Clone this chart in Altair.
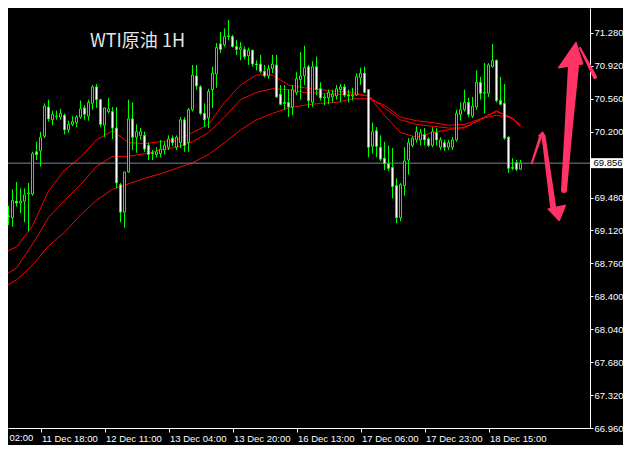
import json
import altair as alt
import pandas as pd

# ---------------- data (WTI 1H candles) ----------------
opens = [68.76, 68.96, 69.28, 69.26, 69.44, 69.42, 69.44, 69.52, 69.52, 69.98,
         69.99, 70.15, 70.47, 70.33, 70.36, 70.36, 70.38, 70.22, 70.28, 70.30,
         70.36, 70.46, 70.37, 70.51, 70.69, 70.55, 70.27, 70.42, 70.42, 70.24,
         69.62, 69.32, 69.76, 70.34, 70.14, 70.16, 70.16, 70.05, 69.97, 69.95,
         69.96, 70.00, 70.03, 70.13, 70.03, 70.08, 70.33, 70.08, 70.44, 70.81,
         70.69, 70.40, 70.35, 70.66, 70.83, 71.16, 71.15, 71.24, 71.24, 71.13,
         71.10, 71.10, 71.03, 71.09, 70.94, 70.94, 70.86, 70.81, 70.89, 70.93,
         70.61, 70.52, 70.52, 70.47, 70.63, 70.77, 70.81, 70.91, 70.52, 70.91,
         70.67, 70.57, 70.57, 70.58, 70.59, 70.66, 70.69, 70.60, 70.59, 70.60,
         70.79, 70.84, 70.66, 70.04, 70.21, 70.03, 69.91, 69.85, 69.81, 69.61,
         69.26, 69.61, 69.89, 70.05, 70.11, 70.11, 70.17, 70.12, 70.05, 70.19,
         70.03, 70.08, 70.03, 70.03, 70.11, 70.39, 70.44, 70.52, 70.37, 70.47,
         70.74, 70.62, 70.62, 70.91, 70.98, 70.54, 70.51, 70.14, 69.81, 69.86,
         69.79]
highs = [68.99, 69.39, 69.39, 69.57, 69.65, 69.58, 69.58, 69.64, 69.98, 70.09,
         70.20, 70.51, 70.55, 70.43, 70.43, 70.45, 70.40, 70.32, 70.37, 70.38,
         70.54, 70.49, 70.55, 70.71, 70.72, 70.56, 70.46, 70.57, 70.47, 70.47,
         69.64, 69.76, 70.55, 70.52, 70.28, 70.24, 70.20, 70.08, 70.00, 70.03,
         70.11, 70.09, 70.16, 70.16, 70.16, 70.36, 70.36, 70.46, 70.93, 70.93,
         70.71, 70.51, 70.67, 70.91, 71.17, 71.29, 71.33, 71.42, 71.26, 71.20,
         71.18, 71.13, 71.12, 71.10, 70.98, 71.04, 70.93, 70.93, 71.04, 71.04,
         70.71, 70.71, 70.66, 70.71, 70.85, 71.07, 71.14, 70.93, 70.97, 71.02,
         70.74, 70.61, 70.66, 70.66, 70.71, 70.72, 70.72, 70.66, 70.68, 70.84,
         70.90, 70.91, 70.66, 70.30, 70.25, 70.16, 70.09, 70.05, 70.02, 69.69,
         69.64, 70.03, 70.13, 70.15, 70.26, 70.23, 70.24, 70.14, 70.25, 70.24,
         70.14, 70.11, 70.11, 70.14, 70.44, 70.52, 70.66, 70.57, 70.58, 70.87,
         70.80, 70.95, 70.95, 71.16, 70.99, 70.80, 70.72, 70.15, 69.91, 69.89,
         69.89]
lows = [68.71, 68.94, 69.18, 69.16, 69.38, 69.31, 69.21, 69.11, 69.50, 69.89,
        69.82, 70.13, 70.31, 70.27, 70.33, 70.33, 70.17, 70.19, 70.26, 70.25,
        70.34, 70.33, 70.32, 70.44, 70.46, 70.25, 70.14, 70.40, 70.12, 69.58,
        69.21, 69.15, 69.75, 70.00, 69.97, 70.11, 69.98, 69.89, 69.89, 69.92,
        69.92, 69.95, 70.00, 70.04, 70.00, 70.02, 69.98, 69.98, 70.42, 70.66,
        70.38, 70.25, 70.24, 70.46, 70.68, 71.06, 71.13, 71.20, 71.12, 71.04,
        70.98, 70.99, 70.93, 70.91, 70.87, 70.84, 70.79, 70.78, 70.84, 70.57,
        70.49, 70.44, 70.36, 70.38, 70.60, 70.55, 70.71, 70.46, 70.47, 70.60,
        70.54, 70.49, 70.50, 70.52, 70.55, 70.52, 70.58, 70.52, 70.54, 70.59,
        70.71, 70.62, 69.92, 69.96, 69.92, 69.88, 69.78, 69.77, 69.47, 69.20,
        69.22, 69.50, 69.73, 70.03, 70.08, 70.05, 70.05, 70.03, 70.03, 70.05,
        70.00, 69.99, 70.00, 70.00, 70.09, 70.32, 70.42, 70.36, 70.35, 70.44,
        70.55, 70.40, 70.58, 70.90, 70.52, 70.49, 70.11, 69.75, 69.78, 69.77,
        69.78]
closes = [68.96, 69.27, 69.27, 69.45, 69.42, 69.44, 69.51, 69.53, 69.96, 69.95,
          70.14, 70.48, 70.34, 70.39, 70.37, 70.40, 70.22, 70.28, 70.31, 70.36,
          70.45, 70.39, 70.52, 70.69, 70.55, 70.28, 70.46, 70.45, 70.24, 69.64,
          69.32, 69.76, 70.34, 70.14, 70.20, 70.20, 70.01, 69.95, 69.96, 69.98,
          70.01, 70.05, 70.12, 70.08, 70.14, 70.33, 70.05, 70.44, 70.82, 70.70,
          70.40, 70.33, 70.64, 70.84, 71.12, 71.10, 71.24, 71.25, 71.13, 71.10,
          71.12, 71.02, 71.09, 70.94, 70.93, 70.86, 70.81, 70.89, 70.94, 70.58,
          70.50, 70.51, 70.47, 70.66, 70.78, 70.81, 70.90, 70.54, 70.91, 70.66,
          70.57, 70.58, 70.63, 70.61, 70.67, 70.69, 70.60, 70.59, 70.60, 70.80,
          70.84, 70.63, 70.03, 70.20, 70.04, 69.90, 69.85, 69.80, 69.60, 69.26,
          69.62, 69.88, 70.08, 70.13, 70.20, 70.19, 70.11, 70.05, 70.20, 70.11,
          70.11, 70.03, 70.08, 70.11, 70.40, 70.44, 70.52, 70.39, 70.48, 70.74,
          70.62, 70.63, 70.93, 70.98, 70.54, 70.50, 70.13, 69.80, 69.80, 69.79,
          69.856]

# moving averages (red lines), sampled every 4 bars
ma_bars = [0, 4, 8, 12, 16, 20, 24, 28, 32, 36, 40, 44, 48, 52, 56, 60, 64,
           68, 72, 76, 80, 84, 88, 92, 96, 100, 104, 108, 112, 116, 120, 124, 128, 130]
ma_fast = [68.86, 68.94, 69.17, 69.55, 69.78, 69.92, 70.11, 70.21, 70.08, 70.07,
           70.09, 70.11, 70.19, 70.28, 70.52, 70.71, 70.82, 70.82, 70.71, 70.68,
           70.66, 70.64, 70.63, 70.59, 70.38, 70.19, 70.14, 70.19, 70.22, 70.25,
           70.33, 70.43, 70.34, 70.28]
ma_mid = [68.60, 68.71, 68.97, 69.26, 69.45, 69.62, 69.82, 69.93, 69.93, 69.96,
          70.00, 70.03, 70.09, 70.19, 70.36, 70.55, 70.63, 70.67, 70.66, 70.63,
          70.62, 70.61, 70.61, 70.59, 70.46, 70.33, 70.28, 70.26, 70.24, 70.24,
          70.34, 70.42, 70.35, 70.26]
ma_slow = [68.48, 68.58, 68.74, 68.95, 69.10, 69.29, 69.45, 69.57, 69.63, 69.69,
           69.74, 69.80, 69.86, 69.95, 70.08, 70.22, 70.33, 70.40, 70.46, 70.49,
           70.51, 70.52, 70.56, 70.56, 70.49, 70.36, 70.32, 70.30, 70.27, 70.28,
           70.34, 70.38, 70.35, 70.25]

x_tick_bars = [10, 26, 42, 58, 74, 90, 106, 122]
x_tick_labels = ["11 Dec 18:00", "12 Dec 11:00", "13 Dec 04:00", "13 Dec 20:00",
                 "16 Dec 13:00", "17 Dec 06:00", "17 Dec 23:00", "18 Dec 15:00"]
cut_label_bar = [-6]
cut_label_text = ["11 Dec 02:00"]
y_tick_values = [71.28, 70.92, 70.56, 70.20, 69.48, 69.12, 68.76, 68.40,
                 68.04, 67.68, 67.32, 66.96]
last_price = [69.856]
title_text = ["WTI原油 1H"]

# hand-drawn arrows (bar index, price)
shaft_arrow = ["a1", "a1", "a1", "a2", "a2", "a3", "a3", "a4", "a4"]
shaft_bar = [140.875, 142.0, 143.25, 135.75, 138.125, 132.8, 135.0, 144.875, 148.625]
shaft_price = [69.562, 70.218, 70.918, 70.153, 69.387, 69.854, 70.142, 71.115, 70.798]
shaft_width = [6, 8, 11, 4, 6, 2, 3, 2, 4]
head_arrow = ["a1", "a1", "a1", "a2", "a2", "a2", "a3", "a3", "a3"]
head_bar = [143.875, 139.375, 145.625, 139.7, 136.8, 141.3, 135.55, 134.45, 135.95]
head_price = [71.181, 70.896, 70.940, 69.223, 69.355, 69.398, 70.200, 70.153, 70.164]

# ---------------- build ----------------
FONT = "Liberation Sans, Arial, sans-serif"
FS = 9.5
LIME = "#00ff00"
PINK = "#ff3366"

n = len(opens)
candles = pd.DataFrame({"bar": list(range(n)), "open": opens, "high": highs,
                        "low": lows, "close": closes})
candles["dir"] = ["bull" if c >= o else "bear" for o, c in zip(opens, closes)]

ma_df = pd.concat([
    pd.DataFrame({"bar": ma_bars, "price": ma_fast, "series": "fast"}),
    pd.DataFrame({"bar": ma_bars, "price": ma_mid, "series": "mid"}),
    pd.DataFrame({"bar": ma_bars, "price": ma_slow, "series": "slow"}),
])
shafts = pd.DataFrame({"arrow": shaft_arrow, "bar": shaft_bar, "price": shaft_price,
                       "width": shaft_width})
shafts["order"] = shafts.groupby("arrow").cumcount()
heads = pd.DataFrame({"arrow": head_arrow, "bar": head_bar, "price": head_price})
heads["order"] = heads.groupby("arrow").cumcount()
price_df = pd.DataFrame({"price": last_price, "label": ["%.3f" % p for p in last_price]})
cut_df = pd.DataFrame({"bar": cut_label_bar, "label": cut_label_text})
title_df = pd.DataFrame({"t": title_text})

# the view shows the reference window from its 8th pixel on (page margin)
xs = alt.Scale(domain=[1.875, 147.375], nice=False, zero=False, padding=0)
ys = alt.Scale(domain=[66.96, 71.5525], nice=False, zero=False, padding=0)

label_expr = "%s[indexof(%s, datum.value)]" % (json.dumps(x_tick_labels), json.dumps(x_tick_bars))
xaxis = alt.Axis(orient="bottom", values=x_tick_bars, labelExpr=label_expr, title=None,
                 grid=False, domainColor="white", tickColor="white", labelColor="white",
                 tickSize=4, labelPadding=1, labelAlign="left", labelBaseline="top",
                 labelOffset=1, labelFont=FONT, labelFontSize=FS, labelOverlap=False,
                 labelFlush=False, labelBound=False, domainWidth=1, tickWidth=1)
yaxis = alt.Axis(orient="right", values=y_tick_values, format=".3f", title=None,
                 grid=False, domainColor="white", tickColor="white", labelColor="white",
                 tickSize=3, labelPadding=1, labelAlign="left", labelBaseline="middle",
                 labelFont=FONT, labelFontSize=FS, labelOverlap=False, labelFlush=False,
                 labelBound=False, domainWidth=1, tickWidth=1)

def X(f):
    return alt.X(f, scale=xs, axis=xaxis)

def Y(f):
    return alt.Y(f, scale=ys, axis=yaxis)

ma_layer = alt.Chart(ma_df).mark_line(color="#ff0000", strokeWidth=1, clip=True).encode(
    x=X("bar:Q"), y=Y("price:Q"), detail="series:N")

wicks = alt.Chart(candles).mark_rule(color=LIME, strokeWidth=1, clip=True).encode(
    x=X("bar:Q"), y=Y("low:Q"), y2="high:Q")

bodies = alt.Chart(candles).mark_bar(size=2, stroke=LIME, strokeWidth=1, clip=True).encode(
    x=X("bar:Q"), y=Y("open:Q"), y2="close:Q",
    fill=alt.Fill("dir:N", scale=alt.Scale(domain=["bull", "bear"],
                                           range=["#000000", "#ffffff"]), legend=None))

price_line = alt.Chart(price_df).mark_rule(color="#778899", strokeWidth=1).encode(
    y=Y("price:Q"))

price_box = alt.Chart(price_df).mark_tick(color="white", orient="horizontal",
                                          thickness=10, size=32, opacity=1).encode(
    x=alt.value(599), y=Y("price:Q"))
price_text = alt.Chart(price_df).mark_text(align="left", baseline="middle", color="black",
                                           font=FONT, fontSize=FS).encode(
    x=alt.value(585.5), y=Y("price:Q"), text="label:N")

cut_text = alt.Chart(cut_df).mark_text(align="left", baseline="top", color="white",
                                       font=FONT, fontSize=FS, dx=1).encode(
    x=X("bar:Q"), y=alt.value(425), text="label:N")

title = alt.Chart(title_df).mark_text(align="left", baseline="middle", color="#e6e6e6",
                                      font="Noto Sans CJK SC", fontSize=18).encode(
    x=alt.value(82), y=alt.value(34), text="t:N")

shaft_layer = alt.Chart(shafts).mark_trail(color=PINK).encode(
    x=X("bar:Q"), y=Y("price:Q"), size=alt.Size("width:Q", scale=None, legend=None),
    order="order:Q", detail="arrow:N")

head_layer = alt.Chart(heads).mark_line(color=PINK, fill=PINK, strokeWidth=1,
                                        interpolate="linear-closed").encode(
    x=X("bar:Q"), y=Y("price:Q"), order="order:Q", detail="arrow:N")

chart = alt.layer(
    ma_layer, price_line, wicks, bodies, price_box, price_text, cut_text, title,
    shaft_layer, head_layer
).properties(
    width=582, height=420, background="black",
    padding={"left": 0, "top": 0, "right": 33, "bottom": 17},
    autosize=alt.AutoSizeParams(type="none"),
).configure_view(stroke=None)

chart.save("out.html", embed_options={"renderer": "svg", "actions": False})
